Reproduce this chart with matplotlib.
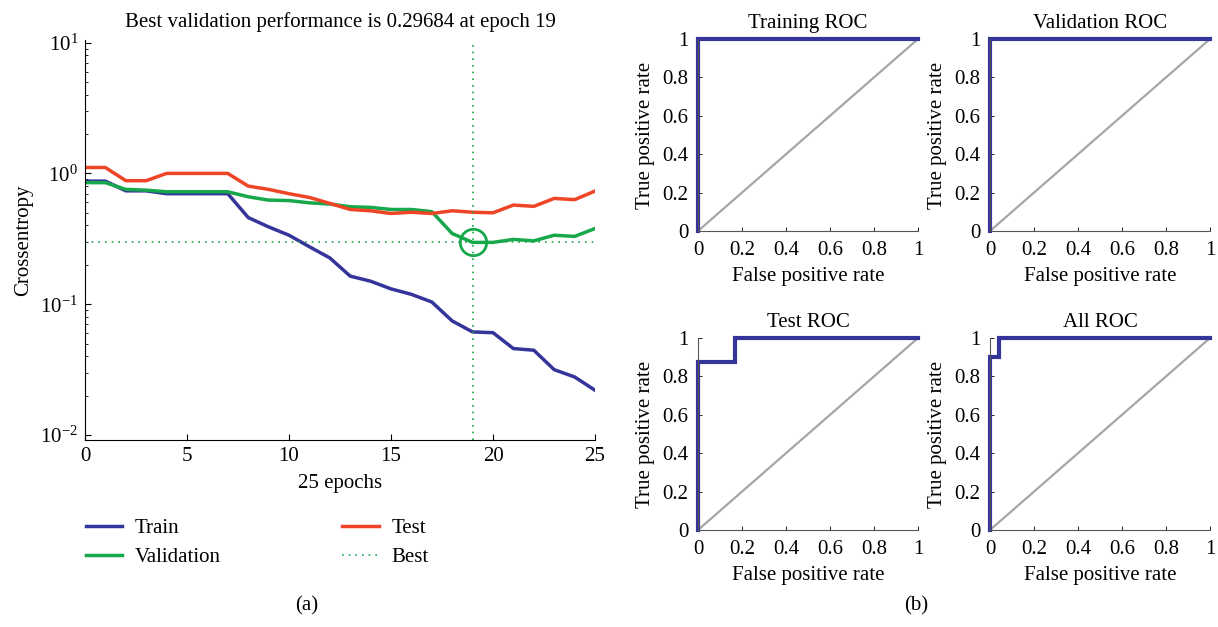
import matplotlib
matplotlib.use("Agg")
import matplotlib.pyplot as plt
from matplotlib.lines import Line2D
import numpy as np

plt.rcParams['font.family'] = ['Liberation Serif', 'DejaVu Serif']
plt.rcParams['mathtext.fontset'] = 'custom'
plt.rcParams['mathtext.rm'] = 'Liberation Serif'
plt.rcParams['mathtext.it'] = 'Liberation Serif:italic'
plt.rcParams['axes.unicode_minus'] = True

# ---- data ----
epochs = list(range(26))
train = [0.873, 0.873, 0.736, 0.736, 0.70, 0.70, 0.70, 0.70, 0.46, 0.39, 0.337,
         0.275, 0.226, 0.164, 0.15, 0.131, 0.119, 0.104, 0.0745, 0.0614, 0.0606,
         0.0458, 0.0445, 0.0316, 0.0278, 0.022]
validation = [0.85, 0.85, 0.755, 0.745, 0.724, 0.724, 0.724, 0.724, 0.663, 0.625,
              0.62, 0.596, 0.583, 0.556, 0.55, 0.53, 0.53, 0.51, 0.347, 0.29684,
              0.297, 0.313, 0.305, 0.337, 0.33, 0.379]
test = [1.11, 1.11, 0.88, 0.88, 1.0, 1.0, 1.0, 1.0, 0.80, 0.755, 0.70, 0.655,
        0.59, 0.53, 0.518, 0.494, 0.505, 0.494, 0.518, 0.505, 0.50, 0.573, 0.56,
        0.644, 0.63, 0.733]
best_epoch = 19
best_perf = 0.29684

roc_titles = ["Training ROC", "Validation ROC", "Test ROC", "All ROC"]
roc_fpr = [[0, 0, 1], [0, 0, 1], [0, 0, 0.167, 0.167, 1], [0, 0, 0.04, 0.04, 1]]
roc_tpr = [[0, 1, 1], [0, 1, 1], [0, 0.875, 0.875, 1, 1], [0, 0.9, 0.9, 1, 1]]

BLUE = '#35349b'
GREEN = '#16a84a'
RED = '#ef4527'
GRAY = '#a6a6a6'
FS = 15

fig = plt.figure(figsize=(12.18, 6.27), dpi=100)

def px_axes(x0, x1, ytop, ybot):
    W, H = 1218, 627
    return fig.add_axes([x0 / W, 1 - ybot / H, (x1 - x0) / W, (ybot - ytop) / H])

# ---- left performance plot ----
ax = px_axes(85, 595, 40, 440)
ax.plot(epochs, train, color=BLUE, lw=2.5)
ax.plot(epochs, validation, color=GREEN, lw=2.5)
ax.plot(epochs, test, color=RED, lw=2.5)
ax.axvline(best_epoch, color=GREEN, lw=1.2, ls=(0, (1, 3)))
ax.axhline(best_perf, color=GREEN, lw=1.2, ls=(0, (1, 3)))
ax.plot([best_epoch], [best_perf], marker='o', ms=19, mfc='none', mec=GREEN, mew=2)
ax.set_yscale('log')
ax.set_ylim(10 ** -2.038, 10 ** 1.02)
ax.set_xlim(0, 25)
ax.set_xticks([0, 5, 10, 15, 20, 25])
ax.set_yticks([1e-2, 1e-1, 1e0, 1e1])
ax.set_yticklabels([r'$10^{-2}$', r'$10^{-1}$', r'$10^{0}$', r'$10^{1}$'])
ax.tick_params(direction='in', labelsize=FS, length=4, width=0.8, pad=5)
ax.tick_params(which='minor', direction='in', length=2, width=0.6)
ax.spines['top'].set_visible(False)
ax.spines['right'].set_visible(False)
ax.set_title('Best validation performance is 0.29684 at epoch 19', fontsize=FS, pad=9)
ax.set_xlabel('25 epochs', fontsize=FS, labelpad=6)
ax.set_ylabel('Crossentropy', fontsize=FS, labelpad=5)

h1 = [Line2D([], [], color=BLUE, lw=2.5), Line2D([], [], color=GREEN, lw=2.5)]
h2 = [Line2D([], [], color=RED, lw=2.5), Line2D([], [], color=GREEN, lw=1.2, ls=(0, (1, 3)))]
leg1 = ax.legend(h1, ['Train', 'Validation'], loc='upper left', bbox_to_anchor=(-0.015, -0.175),
                 frameon=False, fontsize=FS, handlelength=1.75, handletextpad=0.6, labelspacing=0.45,
                 borderaxespad=0)
ax.add_artist(leg1)
ax.legend(h2, ['Test', 'Best'], loc='upper left', bbox_to_anchor=(0.488, -0.175),
          frameon=False, fontsize=FS, handlelength=1.75, handletextpad=0.6, labelspacing=0.45,
          borderaxespad=0)

fig.text(307 / 1218, 1 - 606 / 627, '(a)', ha='center', va='center', fontsize=FS)
fig.text(916 / 1218, 1 - 606 / 627, '(b)', ha='center', va='center', fontsize=FS)

# ---- ROC plots ----
boxes = [(698, 918, 39, 231), (990, 1210, 39, 231), (698, 918, 338, 530), (990, 1210, 338, 530)]
for (x0, x1, yt, yb), title, fpr, tpr in zip(boxes, roc_titles, roc_fpr, roc_tpr):
    a = px_axes(x0, x1, yt, yb)
    a.plot([0, 1], [0, 1], color=GRAY, lw=1.6)
    a.plot(fpr, tpr, color=BLUE, lw=3, solid_joinstyle='miter', clip_on=False)
    a.set_xlim(0, 1)
    a.set_ylim(0, 1)
    ticks = [0, 0.2, 0.4, 0.6, 0.8, 1]
    labels = ['0', '0.2', '0.4', '0.6', '0.8', '1']
    a.set_xticks(ticks)
    a.set_xticklabels(labels)
    a.set_yticks(ticks)
    a.set_yticklabels(labels)
    a.tick_params(direction='in', labelsize=FS, length=3, width=0.6, pad=7)
    a.spines['top'].set_visible(False)
    a.spines['right'].set_visible(False)
    for s in ('left', 'bottom'):
        a.spines[s].set_color('#555555')
        a.spines[s].set_linewidth(0.8)
    a.set_title(title, fontsize=FS, pad=8)
    a.set_xlabel('False positive rate', fontsize=FS, labelpad=5)
    a.set_ylabel('True positive rate', fontsize=FS, labelpad=5)

fig.savefig('out.png', dpi=100)
